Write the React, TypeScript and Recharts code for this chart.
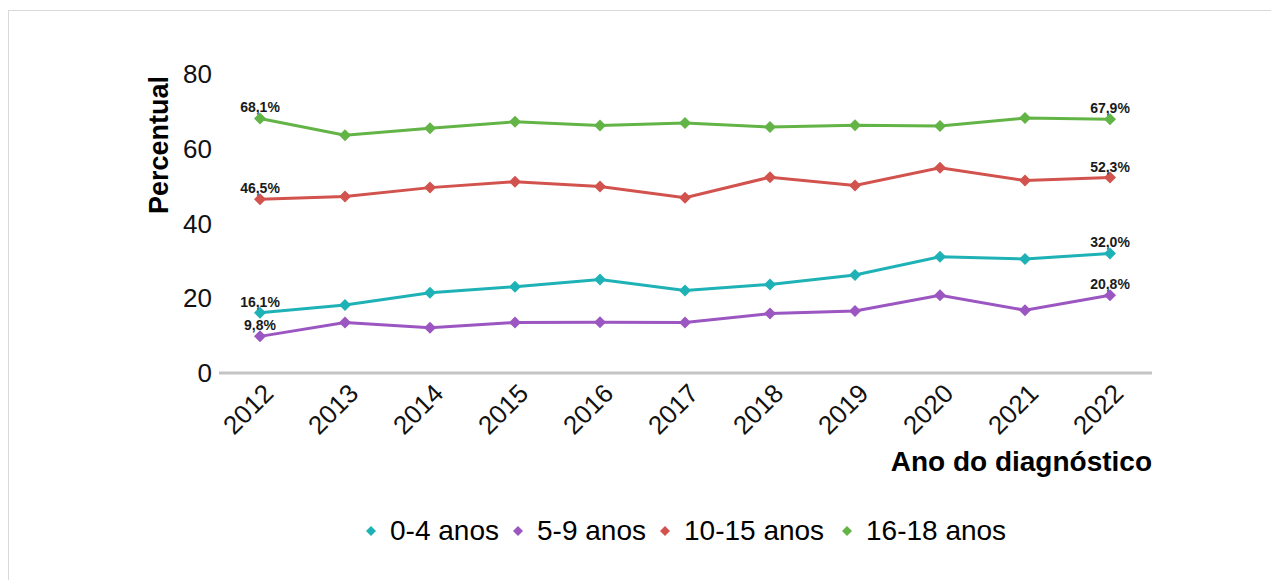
import React from 'react';
import { LineChart, Line, XAxis, YAxis, Legend, LabelList } from 'recharts';

const years = ['2012', '2013', '2014', '2015', '2016', '2017', '2018', '2019', '2020', '2021', '2022'];
const age0to4 = [16.1, 18.2, 21.5, 23.1, 25.0, 22.1, 23.7, 26.2, 31.1, 30.5, 32.0];
const age5to9 = [9.8, 13.5, 12.1, 13.5, 13.6, 13.5, 15.9, 16.6, 20.8, 16.8, 20.8];
const age10to15 = [46.5, 47.2, 49.6, 51.2, 49.9, 46.9, 52.4, 50.2, 54.9, 51.5, 52.3];
const age16to18 = [68.1, 63.6, 65.5, 67.2, 66.2, 66.9, 65.8, 66.3, 66.1, 68.2, 67.9];
const yTicks = [0, 20, 40, 60, 80];
const seriesNames = ['0-4 anos', '5-9 anos', '10-15 anos', '16-18 anos'];
const seriesKeys = ['a', 'b', 'c', 'd'];
const seriesColors = ['#1eb2b6', '#9b56c2', '#d2524e', '#63b446'];

const data = years.map((y, i) => ({
  year: y,
  a: age0to4[i],
  b: age5to9[i],
  c: age10to15[i],
  d: age16to18[i],
}));

const FONT = '"Liberation Sans", Arial, Helvetica, sans-serif';

const XTick = (props: any) => {
  const { x, y, payload } = props;
  const ax = x + 15;
  const ay = y + 22;
  return (
    <text x={ax} y={ay} textAnchor="end" transform={`rotate(-45 ${ax} ${ay})`} fontSize={26} fill="#111" fontFamily={FONT}>
      {payload.value}
    </text>
  );
};

const YLabel = () => (
  <text x={160} y={137} textAnchor="middle" transform="rotate(-90 160 137)" fontSize={27} fontWeight="bold" fill="#000" fontFamily={FONT}>
    Percentual
  </text>
);

const XLabel = () => (
  <text x={1144} y={463} textAnchor="end" fontSize={28} fontWeight="bold" fill="#000" fontFamily={FONT}>
    Ano do diagnóstico
  </text>
);

const makeDot = (color: string) => (p: any) => {
  const { cx, cy, index } = p;
  if (cx == null || cy == null) return <g key={`e-${index}`} />;
  const r = 6;
  return (
    <polygon
      key={`d-${index}`}
      points={`${cx},${cy - r} ${cx + r},${cy} ${cx},${cy + r} ${cx - r},${cy}`}
      fill={color}
    />
  );
};

const EndLabel = (p: any) => {
  const { x, y, value, index } = p;
  if (index !== 0 && index !== years.length - 1) return null;
  const txt = Number(value).toFixed(1).replace('.', ',') + '%';
  return (
    <text x={x} y={y - 6} textAnchor="middle" fontSize={14} fontWeight="bold" fill="#1a1a1a" fontFamily={FONT}>
      {txt}
    </text>
  );
};

const legendCenters = [363, 510, 657, 839];

const LegendContent = () => (
  <div style={{ position: 'relative', width: '100%', height: 32 }}>
    {seriesNames.map((name, i) => (
      <div
        key={name}
        style={{ position: 'absolute', left: legendCenters[i] - 6, top: 0, display: 'flex', alignItems: 'center', height: 30 }}
      >
        <svg width={12} height={12} style={{ display: 'block' }}>
          <polygon points="6,1 11,6 6,11 1,6" fill={seriesColors[i]} />
        </svg>
        <span style={{ marginLeft: 13, fontSize: 28, lineHeight: '30px', fontFamily: FONT, color: '#000', whiteSpace: 'nowrap' }}>
          {name}
        </span>
      </div>
    ))}
  </div>
);

export default function App() {
  return (
    <div style={{ position: 'relative', width: 1263, height: 572 }}>
      <div
        style={{
          position: 'absolute',
          left: 0,
          top: 2,
          width: 1271,
          height: 578,
          borderTop: '1px solid #d9d9d9',
          borderLeft: '1px solid #d9d9d9',
          boxSizing: 'border-box',
        }}
      />
      <LineChart width={1263} height={572} data={data} margin={{ top: 66, right: 119, bottom: 0, left: 0 }}>
        <XAxis
          dataKey="year"
          interval={0}
          padding={{ left: 41, right: 42 }}
          axisLine={{ stroke: '#c4c4c4', strokeWidth: 3 }}
          tickLine={false}
          tickSize={0}
          tickMargin={0}
          height={207}
          tick={<XTick />}
          label={<XLabel />}
        />
        <YAxis
          domain={[0, 80]}
          ticks={yTicks}
          width={211}
          axisLine={false}
          tickLine={false}
          tickSize={0}
          tickMargin={7}
          tick={{ fontSize: 26, fill: '#111', fontFamily: FONT }}
          label={<YLabel />}
        />
        <Legend layout="horizontal" verticalAlign="middle" align="center" wrapperStyle={{ position: 'absolute', top: 508, left: 0, width: 1263, height: 32 }} content={<LegendContent />} />
        {seriesKeys.map((k, i) => (
          <Line
            key={k}
            type="linear"
            dataKey={k}
            name={seriesNames[i]}
            stroke={seriesColors[i]}
            strokeWidth={3}
            dot={makeDot(seriesColors[i])}
            activeDot={false}
            isAnimationActive={false}
          >
            <LabelList dataKey={k} content={<EndLabel />} />
          </Line>
        ))}
      </LineChart>
    </div>
  );
}
